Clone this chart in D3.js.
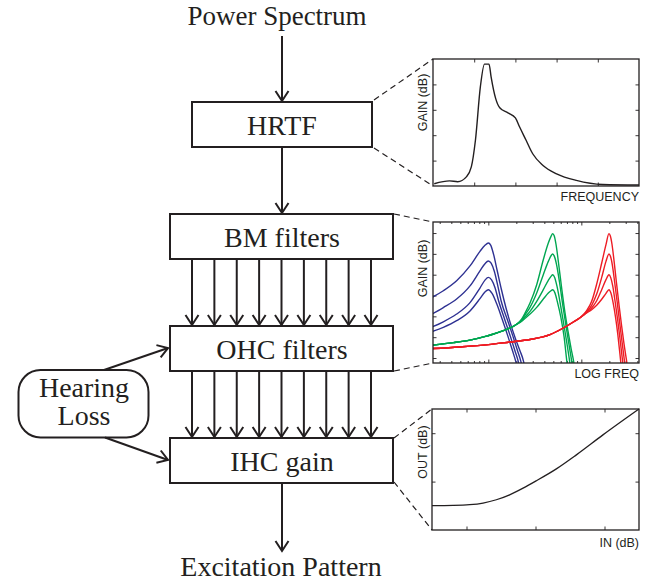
<!DOCTYPE html>
<html>
<head>
<meta charset="utf-8">
<script src="https://cdn.jsdelivr.net/npm/d3@7"></script>
<style>
  body { margin: 0; background: #fff; }
  text.serif { font-family: "Liberation Serif", "Times New Roman", serif; font-size: 28px; fill: #231f20; }
  text.sans { font-family: "Liberation Sans", Arial, sans-serif; font-size: 12.5px; fill: #231f20; }
</style>
</head>
<body>
<div id="chart"></div>
<script>
// ---- values ----
// HRTF panel (linear axes, 5 tick intervals each way)
const hrtfFreq = [0.03, 0.40, 0.60, 0.81, 0.93, 1.03, 1.15, 1.25, 1.36, 1.41, 1.52, 1.62, 1.82, 2.00, 2.10, 2.26, 2.42, 2.67, 3.00, 3.48, 4.12, 5.00];
const hrtfGain = [0.09, 0.20, 0.17, 0.36, 0.75, 1.80, 3.91, 4.80, 4.80, 4.30, 3.45, 3.08, 2.88, 2.68, 2.33, 1.80, 1.27, 0.81, 0.48, 0.22, 0.06, 0.04];

// BM filter panel: [log10 freq, gain dB], highest gain first
const blueCurves = [
  [[1.391,-31.0],[1.516,-27.7],[1.659,-22.9],[1.803,-15.8],[1.910,-8.8],[1.964,-5.9],[2.000,-4.8],[2.025,-5.8],[2.055,-10.0],[2.095,-18.0],[2.140,-27.0],[2.190,-36.0],[2.235,-43.0],[2.290,-50.5],[2.340,-56.5],[2.380,-61.9],[2.400,-67.0]],
  [[1.391,-39.0],[1.516,-35.8],[1.659,-31.7],[1.803,-25.4],[1.910,-18.2],[1.964,-14.7],[2.000,-13.4],[2.030,-14.5],[2.065,-18.5],[2.100,-25.0],[2.140,-33.0],[2.204,-41.5],[2.264,-49.5],[2.314,-56.5],[2.351,-61.9],[2.374,-67.0]],
  [[1.391,-45.1],[1.516,-42.6],[1.659,-38.9],[1.803,-33.4],[1.910,-26.4],[1.964,-22.6],[2.000,-21.3],[2.035,-22.5],[2.070,-26.0],[2.110,-32.5],[2.176,-41.5],[2.236,-49.5],[2.286,-56.5],[2.323,-61.9],[2.346,-67.0]],
  [[1.391,-47.4],[1.516,-45.3],[1.659,-42.1],[1.803,-37.4],[1.910,-31.5],[1.964,-28.3],[2.000,-27.2],[2.040,-29.0],[2.090,-34.0],[2.150,-41.5],[2.210,-49.5],[2.260,-56.5],[2.297,-61.9],[2.310,-64.0],[2.320,-67.0]]
];
const greenTail = [[1.391,-53.8],[1.624,-52.6],[1.803,-51.4],[1.990,-49.4],[2.162,-46.9],[2.305,-43.8]];
const greenCurves = [
  [[2.36,-41.2],[2.40,-38.0],[2.448,-33.6],[2.520,-24.8],[2.591,-12.8],[2.645,-4.8],[2.674,-1.6],[2.692,-0.3],[2.708,-1.3],[2.728,-5.5],[2.755,-14.5],[2.790,-27.0],[2.825,-38.5],[2.858,-47.5],[2.890,-55.5],[2.918,-61.9],[2.933,-67.0]],
  [[2.36,-41.6],[2.40,-38.9],[2.448,-35.7],[2.520,-28.8],[2.591,-20.0],[2.645,-13.6],[2.674,-10.9],[2.692,-10.1],[2.710,-11.2],[2.733,-15.0],[2.765,-23.5],[2.800,-34.5],[2.835,-44.5],[2.867,-53.5],[2.897,-61.9],[2.912,-67.0]],
  [[2.36,-42.0],[2.40,-40.0],[2.448,-37.6],[2.520,-32.8],[2.591,-27.2],[2.645,-22.7],[2.674,-20.8],[2.692,-20.0],[2.712,-21.2],[2.738,-25.5],[2.770,-33.0],[2.810,-43.5],[2.845,-53.0],[2.875,-61.9],[2.890,-67.0]],
  [[2.36,-42.3],[2.40,-40.8],[2.448,-38.9],[2.520,-35.7],[2.591,-31.7],[2.645,-28.8],[2.674,-27.7],[2.692,-27.2],[2.715,-28.6],[2.745,-33.5],[2.780,-40.5],[2.815,-50.0],[2.845,-61.9],[2.860,-67.0]]
];
const redTail = [[1.391,-55.5],[1.695,-54.7],[2.000,-53.6],[2.233,-52.3],[2.448,-51.1],[2.663,-48.8],[2.806,-45.6],[2.914,-42.7],[3.000,-40.2]];
const redCurves = [
  [[3.057,-37.3],[3.111,-32.8],[3.165,-24.5],[3.219,-14.4],[3.265,-5.6],[3.297,-0.3],[3.312,-1.4],[3.330,-5.5],[3.352,-13.5],[3.378,-24.0],[3.405,-34.5],[3.433,-44.5],[3.458,-53.0],[3.480,-59.5],[3.490,-62.5],[3.500,-67.0]],
  [[3.057,-37.8],[3.111,-34.7],[3.165,-29.3],[3.219,-21.3],[3.265,-13.6],[3.297,-10.1],[3.314,-11.3],[3.334,-15.5],[3.358,-23.5],[3.385,-33.0],[3.412,-43.0],[3.437,-52.0],[3.458,-59.5],[3.468,-63.0],[3.478,-67.0]],
  [[3.057,-38.1],[3.111,-36.0],[3.165,-32.5],[3.219,-27.2],[3.265,-22.4],[3.297,-20.0],[3.316,-21.4],[3.338,-25.5],[3.362,-32.5],[3.390,-41.5],[3.415,-50.5],[3.437,-59.0],[3.447,-62.8],[3.457,-67.0]],
  [[3.057,-38.4],[3.111,-36.8],[3.165,-34.7],[3.219,-31.8],[3.265,-29.0],[3.297,-27.2],[3.318,-28.8],[3.342,-33.5],[3.368,-40.5],[3.393,-49.0],[3.416,-58.5],[3.425,-62.5],[3.435,-67.0]]
];
const bmMajorTicks = [2, 3];
const bmMinorTicks = [30,40,50,60,70,80,90,200,300,400,500,600,700,800,900,2000,3000,4000].map(Math.log10);
const bmGainTicks = [-60, -50, -40, -30, -20, -10, 0];

// IHC gain panel: input dB -> output dB
const ihcIn  = [0, 12.2, 21.8, 29.6, 37.3, 45.0, 52.8, 60.5, 72.1, 83.7, 99.1, 120];
const ihcOut = [20.1, 20.3, 20.9, 22.3, 25.0, 29.1, 34.6, 40.7, 50.5, 62.1, 78.6, 100];

const stageLabels = ["HRTF", "BM filters", "OHC filters", "IHC gain"];
const nChannels = 9;

// ---- drawing ----
const W = 650, H = 584;
const ink = "#231f20";
const svg = d3.select("#chart").append("svg").attr("width", W).attr("height", H);

function arrow(g, x1, y1, x2, y2) {
  const len = Math.hypot(x2 - x1, y2 - y1);
  const ux = (x2 - x1) / len, uy = (y2 - y1) / len;
  const nx = -uy, ny = ux;
  g.append("line").attr("x1", x1).attr("y1", y1).attr("x2", x2).attr("y2", y2)
    .attr("stroke", ink).attr("stroke-width", 2);
  g.append("path")
    .attr("d", `M${x2 - ux*10 + nx*6.5},${y2 - uy*10 + ny*6.5}L${x2},${y2}L${x2 - ux*10 - nx*6.5},${y2 - uy*10 - ny*6.5}`)
    .attr("fill", "none").attr("stroke", ink).attr("stroke-width", 2);
}

const diag = svg.append("g").attr("id", "diagram");
const cx = 282;

// stage boxes
const boxes = [
  {x0: 192, x1: 372, y0: 102, y1: 147},
  {x0: 170, x1: 393, y0: 214, y1: 259},
  {x0: 170, x1: 393, y0: 326, y1: 371},
  {x0: 170, x1: 393, y0: 438, y1: 483}
];
boxes.forEach((b, i) => {
  diag.append("rect").attr("x", b.x0).attr("y", b.y0)
    .attr("width", b.x1 - b.x0).attr("height", b.y1 - b.y0)
    .attr("fill", "none").attr("stroke", ink).attr("stroke-width", 2);
  diag.append("text").attr("class", "serif")
    .attr("x", cx).attr("y", b.y0 + 33).attr("text-anchor", "middle")
    .text(stageLabels[i]);
});

diag.append("text").attr("class", "serif").attr("x", 277).attr("y", 24.5)
  .style("font-size", "27px")
  .attr("text-anchor", "middle").text("Power Spectrum");
diag.append("text").attr("class", "serif").attr("x", 281).attr("y", 576)
  .attr("text-anchor", "middle").text("Excitation Pattern");

arrow(diag, cx, 36, cx, 101);
arrow(diag, cx, 147, cx, 213);
arrow(diag, cx, 483, cx, 551);

const chanX = d3.scaleLinear().domain([0, nChannels - 1]).range([192, 371]);
d3.range(nChannels).forEach(i => {
  arrow(diag, chanX(i), 259, chanX(i), 325);
  arrow(diag, chanX(i), 371, chanX(i), 437);
});

// hearing loss
diag.append("rect").attr("x", 18.5).attr("y", 370).attr("width", 130).attr("height", 67.5)
  .attr("rx", 22).attr("ry", 22)
  .attr("fill", "none").attr("stroke", ink).attr("stroke-width", 2);
diag.append("text").attr("class", "serif").attr("x", 84).attr("y", 397).attr("text-anchor", "middle").text("Hearing");
diag.append("text").attr("class", "serif").attr("x", 84).attr("y", 425).attr("text-anchor", "middle").text("Loss");
arrow(diag, 104, 370, 168, 348);
arrow(diag, 105, 437.5, 168, 460);

// dashed zoom lines
const dashes = [
  [374, 100, 433, 59], [374, 148, 433, 186],
  [394, 214, 433, 222], [394, 371, 433, 363],
  [394, 438, 432, 409], [394, 482, 432, 530]
];
diag.selectAll("line.dash").data(dashes).enter().append("line")
  .attr("class", "dash")
  .attr("x1", d => d[0]).attr("y1", d => d[1]).attr("x2", d => d[2]).attr("y2", d => d[3])
  .attr("stroke", ink).attr("stroke-width", 1.2).attr("stroke-dasharray", "6,4");

// ---- small panels ----
function panel(id, box, x, y, xTicks, yTicks, xMinor, yLabel, yLabelMid, xLabel, xLabelY) {
  x.range([box.left, box.right]);
  y.range([box.bottom, box.top]);
  const g = svg.append("g").attr("id", id);
  const tickAxes = [
    [d3.axisBottom(x).tickValues(xTicks), `translate(0,${box.bottom})`],
    [d3.axisTop(x).tickValues(xTicks), `translate(0,${box.top})`],
    [d3.axisLeft(y).tickValues(yTicks), `translate(${box.left},0)`],
    [d3.axisRight(y).tickValues(yTicks), `translate(${box.right},0)`]
  ];
  if (xMinor) {
    tickAxes.push([d3.axisBottom(x).tickValues(xMinor).tickSize(-2), `translate(0,${box.bottom})`]);
    tickAxes.push([d3.axisTop(x).tickValues(xMinor).tickSize(-2), `translate(0,${box.top})`]);
  }
  tickAxes.forEach(([ax, tr], i) => {
    if (i < 4) ax.tickSize(-3.5);
    const a = g.append("g").attr("transform", tr).call(ax.tickFormat(""));
    a.select(".domain").remove();
    a.selectAll("line").attr("stroke", ink).attr("stroke-width", 0.9);
  });
  g.append("rect").attr("class", "frame").attr("x", box.left).attr("y", box.top)
    .attr("width", box.right - box.left).attr("height", box.bottom - box.top)
    .attr("fill", "none").attr("stroke", ink).attr("stroke-width", 1.3);
  g.append("text").attr("class", "sans")
    .attr("transform", `translate(427,${yLabelMid}) rotate(-90)`)
    .attr("text-anchor", "middle").text(yLabel);
  g.append("text").attr("class", "sans")
    .attr("x", box.right).attr("y", xLabelY).attr("text-anchor", "end").text(xLabel);
  return g;
}

// HRTF
const x1 = d3.scaleLinear().domain([0, 5]);
const y1 = d3.scaleLinear().domain([0, 5]);
const p1 = panel("hrtf", {left: 433, right: 639, top: 59, bottom: 186}, x1, y1,
  [1, 2, 3, 4], [1, 2, 3, 4], null, "GAIN (dB)", 102.5, "FREQUENCY", 201);
p1.append("path")
  .datum(d3.zip(hrtfFreq, hrtfGain))
  .attr("d", d3.line().x(d => x1(d[0])).y(d => y1(d[1])).curve(d3.curveMonotoneX))
  .attr("fill", "none").attr("stroke", ink).attr("stroke-width", 1.4);

// BM filters
const x2 = d3.scaleLinear().domain([1.405, 3.62]);
const y2 = d3.scaleLinear().domain([-62.4, 5.3]);
const box2 = {left: 433, right: 639, top: 222, bottom: 363};
const p2 = panel("bm", box2, x2, y2, bmMajorTicks, bmGainTicks, bmMinorTicks, "GAIN (dB)", 268.5, "LOG FREQ", 378);
svg.append("clipPath").attr("id", "bmclip").append("rect")
  .attr("x", box2.left).attr("y", box2.top)
  .attr("width", box2.right - box2.left).attr("height", box2.bottom - box2.top);
const bmLine = d3.line().x(d => x2(d[0])).y(d => y2(d[1])).curve(d3.curveMonotoneX);
const curves = p2.append("g").attr("clip-path", "url(#bmclip)");
const families = [
  {color: "#2e3192", data: blueCurves},
  {color: "#00a651", data: greenCurves.map(c => greenTail.concat(c))},
  {color: "#ed1c24", data: redCurves.map(c => redTail.concat(c))}
];
families.forEach(f => {
  curves.selectAll(null).data(f.data).enter().append("path")
    .attr("d", bmLine)
    .attr("fill", "none").attr("stroke", f.color).attr("stroke-width", 1.4);
});
p2.select("rect.frame").raise();

// IHC gain
const x3 = d3.scaleLinear().domain([0, 120]);
const y3 = d3.scaleLinear().domain([0, 100]);
const p3 = panel("ihc", {left: 432, right: 639, top: 409, bottom: 530}, x3, y3,
  [20, 60, 100], [40, 80], null, "OUT (dB)", 452, "IN (dB)", 547);
p3.append("path")
  .datum(d3.zip(ihcIn, ihcOut))
  .attr("d", d3.line().x(d => x3(d[0])).y(d => y3(d[1])).curve(d3.curveMonotoneX))
  .attr("fill", "none").attr("stroke", ink).attr("stroke-width", 1.3);
</script>
</body>
</html>
